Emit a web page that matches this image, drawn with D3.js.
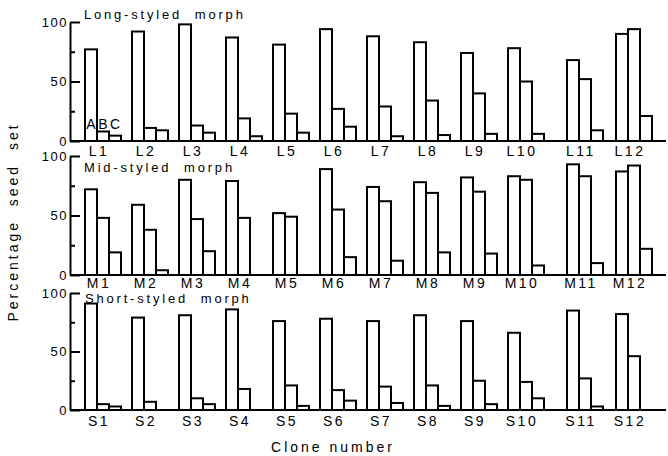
<!DOCTYPE html>
<html>
<head>
<meta charset="utf-8">
<script src="https://cdn.jsdelivr.net/npm/d3@7"></script>
<style>
  body { margin: 0; background: #fff; }
  svg { display: block; }
  text { font-family: "Liberation Sans", Arial, sans-serif; fill: #000; }
</style>
</head>
<body>
<svg id="chart"></svg>
<script>
// morph panels and clone labels
var morphNames = ["Long-styled  morph", "Mid-styled  morph", "Short-styled  morph"];
var clonePrefix = ["L", "M", "S"];
var cloneNumbers = [1, 2, 3, 4, 5, 6, 7, 8, 9, 10, 11, 12];
var seriesKeys = ["A", "B", "C"];

// percentage seed set
var longA  = [77, 92, 98, 87, 81, 94, 88, 83, 74, 78, 68, 90];
var longB  = [8, 11, 13, 19, 23, 27, 29, 34, 40, 50, 52, 94];
var longC  = [4.5, 9, 7, 4, 7, 12, 4, 5, 6, 6, 9, 21];
var midA   = [72, 59, 80, 79, 52, 89, 74, 78, 82, 83, 93, 87];
var midB   = [48, 38, 47, 48, 49, 55, 62, 69, 70, 80, 83, 92];
var midC   = [19, 4, 20, 0, 0, 15, 12, 19, 18, 8, 10, 22];
var shortA = [91, 79, 81, 86, 76, 78, 76, 81, 76, 66, 85, 82];
var shortB = [5, 7, 10, 18, 21, 17, 20, 21, 25, 24, 27, 46];
var shortC = [3, 0, 5, 0, 3.5, 8, 6, 3.5, 5, 10, 3, 0];

var majorTicks = [0, 50, 100];
var minorTicks = [25, 75];

function drawChart() {
    var width = 668,
        height = 456;

    var svg = d3.select("#chart")
        .attr("width", width)
        .attr("height", height);

    var values = [
        [longA, longB, longC],
        [midA, midB, midC],
        [shortA, shortB, shortC]
    ];

    // vertical extent of each panel, title and label placement
    var layout = [
        { y0: 141, y100: 22, titleY: 19, titleX: 84, labelDy: 15 },
        { y0: 275, y100: 156, titleY: 172, titleX: 84, labelDy: 13 },
        { y0: 410, y100: 293, titleY: 303, titleX: 85, labelDy: 16 }
    ];

    var axisX = 70;

    // clone groups sit a bit wider apart after the tenth
    var groupX = d3.scaleLinear()
        .domain([0, 9, 10, 11])
        .range([85, 508, 567, 616]);

    var barX = d3.scaleBand()
        .domain(seriesKeys)
        .range([0, 36])
        .padding(0);

    layout.forEach(function (p, pi) {
        var y = d3.scaleLinear().domain([0, 100]).range([p.y0, p.y100]);
        var g = svg.append("g");

        // bars
        var groups = g.selectAll("g.clone")
            .data(cloneNumbers)
            .enter().append("g")
            .attr("class", "clone")
            .attr("transform", function (d, i) { return "translate(" + groupX(i) + ",0)"; });

        groups.selectAll("rect")
            .data(function (d, i) {
                return seriesKeys.map(function (k, si) { return { key: k, v: values[pi][si][i] }; });
            })
            .enter().filter(function (d) { return d.v > 0; })
            .append("rect")
            .attr("x", function (d) { return barX(d.key); })
            .attr("width", barX.bandwidth())
            .attr("y", function (d) { return y(d.v); })
            .attr("height", function (d) { return y(0) - y(d.v); })
            .style("fill", "#fff")
            .style("stroke", "#000")
            .style("stroke-width", 2);

        // clone labels
        g.selectAll("text.clab")
            .data(cloneNumbers)
            .enter().append("text")
            .attr("class", "clab")
            .attr("x", function (d, i) { return groupX(i) + barX.bandwidth() + 2; })
            .attr("y", p.y0 + p.labelDy)
            .attr("text-anchor", "middle")
            .style("font-size", "14px")
            .style("letter-spacing", "2.5px")
            .text(function (d) { return clonePrefix[pi] + d; });

        // baseline
        g.append("line")
            .attr("x1", axisX).attr("x2", 666)
            .attr("y1", y(0)).attr("y2", y(0))
            .style("stroke", "#000").style("stroke-width", 2);

        // y axis, ticks pointing inward
        var major = d3.axisLeft(y).tickValues(majorTicks).tickSize(-10).tickSizeOuter(0).tickPadding(2);
        var ax = g.append("g").attr("transform", "translate(" + axisX + ",0)").call(major);
        ax.select(".domain").style("stroke-width", 2);
        ax.selectAll(".tick line").style("stroke-width", 2);
        ax.selectAll(".tick text")
            .style("font-size", "13px")
            .style("font-family", "Liberation Sans, Arial, sans-serif")
            .style("letter-spacing", "1.5px");

        var minor = d3.axisLeft(y).tickValues(minorTicks).tickSize(-5).tickSizeOuter(0).tickFormat("");
        var mx = g.append("g").attr("transform", "translate(" + axisX + ",0)").call(minor);
        mx.select(".domain").remove();
        mx.selectAll(".tick line").style("stroke-width", 2);

        // panel title
        g.append("text")
            .attr("x", p.titleX)
            .attr("y", p.titleY)
            .style("font-size", "13px")
            .style("letter-spacing", "2.8px")
            .style("white-space", "pre")
            .text(morphNames[pi]);
    });

    // series letters over the first long-styled clone
    var yTop = d3.scaleLinear().domain([0, 100]).range([layout[0].y0, layout[0].y100]);
    svg.selectAll("text.series")
        .data(seriesKeys)
        .enter().append("text")
        .attr("class", "series")
        .attr("x", function (d) { return groupX(0) + barX(d) + barX.bandwidth() / 2; })
        .attr("y", yTop(10))
        .attr("text-anchor", "middle")
        .style("font-size", "14px")
        .text(function (d) { return d; });

    // axis titles
    svg.append("text")
        .attr("x", 333)
        .attr("y", 452)
        .attr("text-anchor", "middle")
        .style("font-size", "14px")
        .style("letter-spacing", "3px")
        .text("Clone number");

    svg.append("text")
        .attr("transform", "translate(18,222) rotate(-90)")
        .attr("text-anchor", "middle")
        .style("font-size", "14px")
        .style("letter-spacing", "3px")
        .style("white-space", "pre")
        .text("Percentage  seed  set");
}

drawChart();
</script>
</body>
</html>
